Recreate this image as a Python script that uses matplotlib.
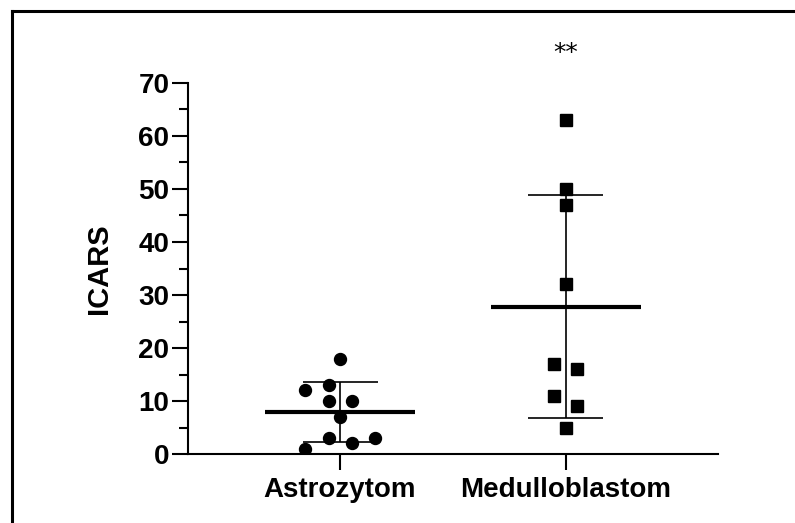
import numpy as np
import matplotlib
matplotlib.use("Agg")
import matplotlib.pyplot as plt
from matplotlib.lines import Line2D

plt.rcParams['font.family'] = ['Liberation Sans', 'DejaVu Sans']

groups = ["Astrozytom", "Medulloblastom"]
astro = [18, 13, 12, 10, 10, 7, 3, 2, 3, 1]
medullo = [63, 50, 47, 32, 17, 16, 11, 9, 5]
# swarm columns (in half marker widths) for each point
astro_cols = [0, -1, -3, -1, 1, 0, -1, 1, 3, -3]
medullo_cols = [0, 0, 0, 0, -1, 1, -1, 1, 0]
yticks = [0, 10, 20, 30, 40, 50, 60, 70]
signif = "**"

fig = plt.figure(figsize=(7.95, 5.23), dpi=100)
ax = fig.add_axes([188/795, 69/523, 530/795, 371/523])

step = 0.051
for i, (vals, cols, mk) in enumerate([(astro, astro_cols, "o"), (medullo, medullo_cols, "s")]):
    vals = np.array(vals, dtype=float)
    xs = i + np.array(cols) * step
    m = vals.mean()
    sd = vals.std(ddof=1)
    ax.vlines(i, m - sd, m + sd, color="black", lw=1.2, zorder=2)
    ax.hlines([m - sd, m + sd], i - 0.166, i + 0.166, color="black", lw=1.2, zorder=2)
    ax.hlines(m, i - 0.334, i + 0.334, color="black", lw=3, zorder=2)
    ax.plot(xs, vals, mk, color="black", markersize=8.6, ls="none", zorder=3)

ax.set_xlim(-0.673, 1.673)
ax.set_ylim(0, 70)
ax.set_xticks([0, 1])
ax.set_xticklabels(groups, fontsize=20, fontweight="bold")
ax.set_yticks(yticks)
ax.set_yticklabels([str(t) for t in yticks], fontsize=20, fontweight="bold")
ax.set_yticks(np.arange(5, 70, 10), minor=True)
ax.tick_params(axis="both", which="major", length=11.5, width=1.5, direction="out")
ax.tick_params(axis="y", which="major", pad=2)
ax.tick_params(axis="x", which="major", pad=5)
ax.tick_params(axis="y", which="minor", length=6.5, width=1.5)
ax.set_ylabel("ICARS", fontsize=21, fontweight="bold", labelpad=18)

for s in ["top", "right"]:
    ax.spines[s].set_visible(False)
for s in ["left", "bottom"]:
    ax.spines[s].set_linewidth(1.5)

ax.text(1, 74.3, signif, ha="center", va="baseline", fontsize=18,
        family="DejaVu Sans", clip_on=False)

# outer frame (top and left edges only visible)
ytop = 1 - 11/523
xleft = 12/795
fig.add_artist(Line2D([xleft, 1.0], [ytop, ytop], color="black", lw=2.2, transform=fig.transFigure))
fig.add_artist(Line2D([xleft, xleft], [0, ytop], color="black", lw=2.2, transform=fig.transFigure))

fig.savefig("out.png", dpi=100)
